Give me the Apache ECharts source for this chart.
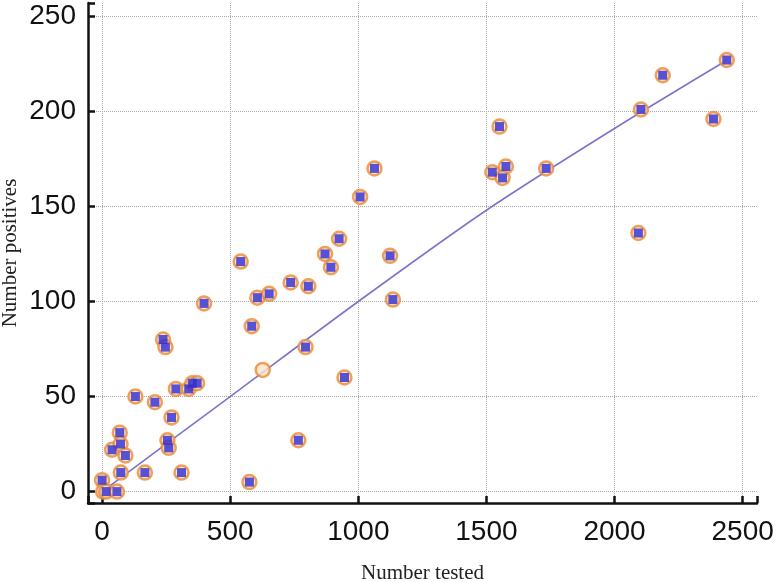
<!DOCTYPE html>
<html>
<head>
<meta charset="utf-8">
<script src="https://cdn.jsdelivr.net/npm/echarts@6/dist/echarts.min.js"></script>
<style>
  html, body { margin: 0; padding: 0; background: #fff; }
  #chart { width: 777px; height: 582px; }
</style>
</head>
<body>
<div id="chart"></div>
<script>
  // observed points (number tested, number positives)
  const tested = [0, 4, 16, 58, 39, 69, 72, 91, 73, 167, 310, 255, 260, 271, 238, 247, 130, 206,
    288, 338, 352, 371, 398, 541, 606, 652, 736, 805, 584, 794, 627, 946, 870, 893, 925, 766,
    575, 1063, 1007, 1124, 1135, 1551, 1523, 1576, 1563, 1733, 2188, 2103, 2386, 2438, 2093];
  const positives = [6, 0, 0, 0, 22, 31, 25, 19, 10, 10, 10, 27, 23, 39, 80, 76, 50, 47,
    54, 54, 57, 57, 99, 121, 102, 104, 110, 108, 87, 76, 64, 60, 125, 118, 133, 27,
    5, 170, 155, 124, 101, 192, 168, 171, 165, 170, 219, 201, 196, 227, 136];
  // points drawn as an open ring only
  const hollow = [1, 30];

  // fitted trend line
  const fitX = [0, 500, 1000, 1500, 2000, 2440];
  const fitY = [0, 50, 100, 148, 191, 227];

  const xTicks = [0, 500, 1000, 1500, 2000, 2500];
  const yTicks = [0, 50, 100, 150, 200, 250];

  const points = tested.map((t, i) => [t, positives[i]]);
  const filled = points.filter((p, i) => hollow.indexOf(i) < 0);
  const fit = fitX.map((x, i) => [x, fitY[i]]);

  const axisCommon = {
    axisLine: { show: true, onZero: false, lineStyle: { color: "#111", width: 2.5 } },
    axisTick: { show: true, inside: true, length: 7, lineStyle: { color: "#111", width: 2.5 } },
    splitLine: {
      show: true,
      showMinLine: false,
      showMaxLine: false,
      lineStyle: { color: "#a8a8a8", type: "dotted", width: 1 }
    },
    nameMoveOverlap: false,
    nameTextStyle: { fontFamily: "Liberation Serif", fontSize: 21, color: "#222" }
  };

  const labelStyle = {
    fontFamily: "Liberation Sans",
    fontSize: 28,
    color: "#111",
    formatter: (v) => String(v)
  };

  const option = {
    animation: false,
    backgroundColor: "#fff",
    grid: { left: 88, right: 20, top: 3, bottom: 79, containLabel: false, outerBoundsMode: "none" },
    xAxis: {
      ...axisCommon,
      type: "value",
      min: -55,
      max: 2556,
      name: "Number tested",
      nameLocation: "middle",
      nameGap: 60,
      axisLabel: { ...labelStyle, customValues: xTicks, margin: 15 }
    },
    yAxis: {
      ...axisCommon,
      type: "value",
      min: -6,
      max: 257,
      name: "Number positives",
      nameLocation: "middle",
      nameGap: 67,
      axisLabel: { ...labelStyle, customValues: yTicks, margin: 12 }
    },
    series: [
      {
        name: "fit",
        type: "line",
        data: fit,
        showSymbol: false,
        smooth: 0.3,
        lineStyle: { color: "#7d74c9", width: 1.6 },
        z: 2
      },
      {
        name: "rings",
        type: "scatter",
        data: points,
        symbol: "circle",
        symbolSize: 14,
        itemStyle: { color: "#fbe3c8", borderColor: "#ea8a34", borderWidth: 2.5 },
        z: 3
      },
      {
        name: "squares",
        type: "scatter",
        data: filled,
        symbol: "rect",
        symbolSize: 9,
        itemStyle: { color: "#2f2bd2" },
        z: 4
      }
    ]
  };

  const chart = echarts.init(document.getElementById("chart"));
  chart.setOption(option);
</script>
</body>
</html>
